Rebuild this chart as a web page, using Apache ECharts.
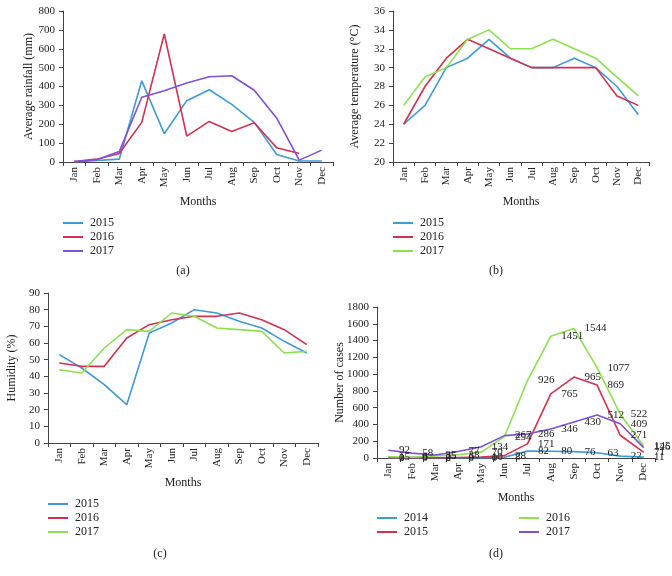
<!DOCTYPE html>
<html>
<head>
<meta charset="utf-8">
<script src="https://cdn.jsdelivr.net/npm/echarts@6/dist/echarts.min.js"></script>
<style>html,body{margin:0;padding:0;background:#fff;}#c{width:672px;height:576px;}</style>
</head>
<body>
<div id="c"></div>
<script>
const months = ['Jan','Feb','Mar','Apr','May','Jun','Jul','Aug','Sep','Oct','Nov','Dec'];

const rain2015 = [0, 8, 15, 430, 150, 325, 383, 305, 210, 40, 5, 5];
const rain2016 = [2, 15, 45, 210, 678, 137, 215, 162, 208, 75, 45, null];
const rain2017 = [2, 12, 55, 343, 378, 418, 452, 457, 380, 232, 10, 63];

const temp2015 = [24, 26, 30, 31, 33, 31, 30, 30, 31, 30, 28, 25];
const temp2016 = [24, 28, 31, 33, 32, 31, 30, 30, 30, 30, 27, 26];
const temp2017 = [26, 29, 30, 33, 34, 32, 32, 33, 32, 31, 29, 27];

const hum2015 = [53, 45, 35, 23, 66, 72, 80, 78, 73, 69, 61, 54];
const hum2016 = [48, 46, 46, 63, 71, 74, 76, 76, 78, 74, 68, 59];
const hum2017 = [44, 42, 57, 68, 67, 78, 76, 69, 68, 67, 54, 55];

const cases2014 = [0, 0, 0, 0, 0, 8, 82, 80, 76, 63, 22, 11];
const cases2015 = [3, 6, 2, 6, 10, 28, 171, 765, 965, 869, 271, 71];
const cases2016 = [15, 9, 25, 38, 70, 254, 926, 1451, 1544, 1077, 522, 145];
const cases2017 = [92, 58, 35, 77, 134, 267, 286, 346, 430, 512, 409, 126];

const BLUE = '#3d9bd8', RED = '#d5304f', PURPLE = '#7f4fe0', GREEN = '#8de04f';
const FONT = '"Liberation Serif", "DejaVu Serif", serif';
const AXC = '#444';

const grids = [
  {left: 63, top: 11, width: 270, height: 151},
  {left: 393, top: 11, width: 256, height: 151},
  {left: 48, top: 293, width: 270, height: 150},
  {left: 377, top: 307, width: 278, height: 151}
];
const yCfg = [
  {min: 0, max: 800, interval: 100, name: 'Average rainfall (mm)', gap: 28},
  {min: 20, max: 36, interval: 2, name: 'Average temperature (°C)', gap: 32},
  {min: 0, max: 90, interval: 10, name: 'Humidity (%)', gap: 30},
  {min: 0, max: 1800, interval: 200, name: 'Number of cases', gap: 31}
];

const xAxes = grids.map((g, i) => ({
  type: 'category', gridIndex: i, data: months, boundaryGap: true,
  name: 'Months', nameLocation: 'middle', nameGap: 34,
  nameTextStyle: {fontFamily: FONT, fontSize: 12, color: '#222'},
  axisLine: {show: true, lineStyle: {color: AXC, width: 1}},
  axisTick: {show: true, length: 4, lineStyle: {color: AXC}},
  axisLabel: {rotate: 90, margin: 5, fontFamily: FONT, fontSize: 11, color: '#222', interval: 0},
  splitLine: {show: false}
}));
const yAxes = yCfg.map((c, i) => ({
  type: 'value', gridIndex: i, min: c.min, max: c.max, interval: c.interval,
  name: c.name, nameLocation: 'middle', nameGap: c.gap, nameMoveOverlap: false,
  nameTextStyle: {fontFamily: FONT, fontSize: 12, color: '#222'},
  axisLine: {show: true, lineStyle: {color: AXC, width: 1}},
  axisTick: {show: true, length: 4, lineStyle: {color: AXC}},
  axisLabel: {margin: 8, fontFamily: FONT, fontSize: 11, color: '#222', formatter: v => String(v)},
  splitLine: {show: false}
}));

function ln(name, data, color, idx, labels) {
  const s = {
    name: name, type: 'line', data: data, xAxisIndex: idx, yAxisIndex: idx,
    symbol: labels ? 'circle' : 'none', symbolSize: labels ? 1 : 0,
    itemStyle: {color: color}, lineStyle: {color: color, width: 1.6},
    emphasis: {disabled: true}, animation: false, connectNulls: false
  };
  if (labels) {
    s.label = {show: true, position: 'right', distance: 10, fontFamily: FONT, fontSize: 11, color: '#222'};
  }
  return s;
}

const series = [
  ln('a2015', rain2015, BLUE, 0), ln('a2016', rain2016, RED, 0), ln('a2017', rain2017, PURPLE, 0),
  ln('b2015', temp2015, BLUE, 1), ln('b2016', temp2016, RED, 1), ln('b2017', temp2017, GREEN, 1),
  ln('c2015', hum2015, BLUE, 2), ln('c2016', hum2016, RED, 2), ln('c2017', hum2017, GREEN, 2),
  ln('d2014', cases2014, BLUE, 3, true), ln('d2015', cases2015, RED, 3, true),
  ln('d2016', cases2016, GREEN, 3, true), ln('d2017', cases2017, PURPLE, 3, true)
];

function lg(names, left, top) {
  return {
    data: names, left: left, top: top, orient: 'vertical', icon: 'rect', padding: 0,
    itemWidth: 20, itemHeight: 2, itemGap: 0, selectedMode: false,
    formatter: n => n.slice(1),
    textStyle: {fontFamily: FONT, fontSize: 12, color: '#222', lineHeight: 14, padding: [0, 0, 0, 2]}
  };
}

const legends = [
  lg(['a2015', 'a2016', 'a2017'], 63, 216),
  lg(['b2015', 'b2016', 'b2017'], 393, 216),
  lg(['c2015', 'c2016', 'c2017'], 48, 497),
  lg(['d2014', 'd2015'], 377, 511),
  lg(['d2016', 'd2017'], 519, 511)
];

function cap(t, x, y) {
  return {type: 'text', x: x, y: y, style: {text: t, fontFamily: FONT, fontSize: 12, fill: '#222', textAlign: 'center', textVerticalAlign: 'middle'}};
}

const chart = echarts.init(document.getElementById('c'), null, {renderer: 'canvas'});
chart.setOption({
  backgroundColor: '#fff',
  animation: false,
  grid: grids,
  xAxis: xAxes,
  yAxis: yAxes,
  legend: legends,
  series: series,
  graphic: [cap('(a)', 183, 271), cap('(b)', 496, 271), cap('(c)', 160, 554), cap('(d)', 496, 554)]
});
</script>
</body>
</html>
